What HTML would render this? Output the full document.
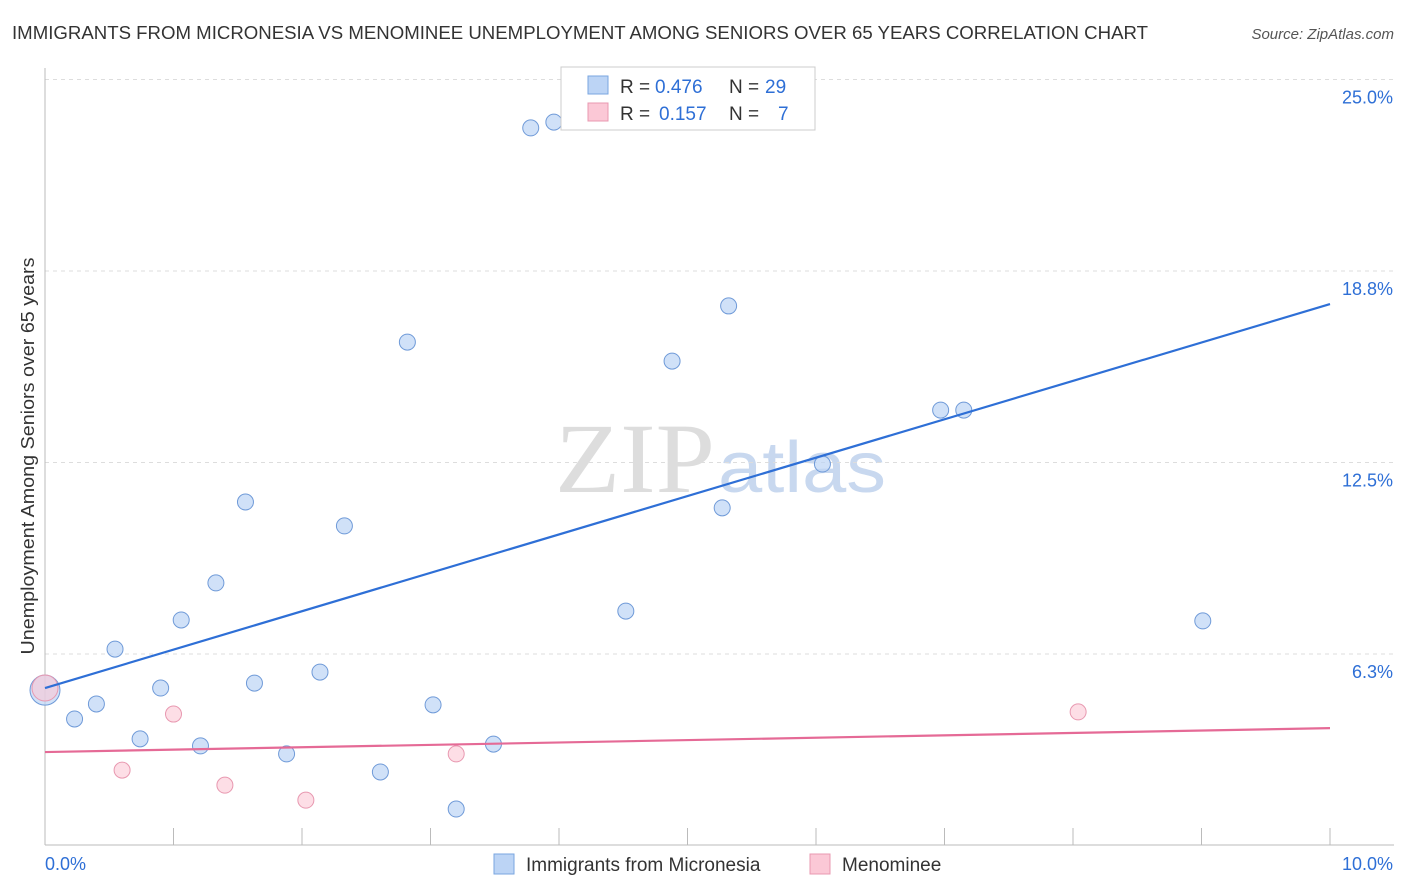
<!DOCTYPE html>
<html><head><meta charset="utf-8"><style>
body{margin:0;background:#fff;font-family:"Liberation Sans",sans-serif;}
svg{display:block}
</style></head><body>
<svg width="1406" height="892" id="chart">
<text x="12" y="39" font-size="18" textLength="1136" lengthAdjust="spacingAndGlyphs" fill="#333">IMMIGRANTS FROM MICRONESIA VS MENOMINEE UNEMPLOYMENT AMONG SENIORS OVER 65 YEARS CORRELATION CHART</text>
<text x="1394" y="39" font-size="15" fill="#555" font-style="italic" text-anchor="end">Source: ZipAtlas.com</text>
<text x="555" y="492" font-size="100" fill="#ddd" textLength="160" lengthAdjust="spacingAndGlyphs" font-family="Liberation Serif,serif">ZIP</text>
<text x="718" y="492" font-size="72" fill="#c8d8ef" textLength="168" lengthAdjust="spacingAndGlyphs">atlas</text>
<text transform="translate(34,456) rotate(-90)" font-size="18" textLength="397" lengthAdjust="spacingAndGlyphs" fill="#333" text-anchor="middle">Unemployment Among Seniors over 65 years</text>
<g id="grid"></g><g id="marks"></g>
<g font-size="19">
<rect x="561" y="67" width="254" height="63" fill="#fff" stroke="#ccc"/>
<rect x="588" y="76" width="20" height="18" fill="#bcd4f5" stroke="#7aa6e0"/>
<rect x="588" y="103" width="20" height="18" fill="#fbc8d6" stroke="#e898b0"/>
<text x="620" y="93" fill="#333">R =</text><text x="655" y="93" fill="#2e6fd6">0.476</text>
<text x="729" y="93" fill="#333">N =</text><text x="765" y="93" fill="#2e6fd6">29</text>
<text x="620" y="120" fill="#333">R =</text><text x="659" y="120" fill="#2e6fd6">0.157</text>
<text x="729" y="120" fill="#333">N =</text><text x="778" y="120" fill="#2e6fd6">7</text>
</g>
<g>
<rect x="494" y="854" width="20" height="20" fill="#bcd4f5" stroke="#7aa6e0"/>
<text x="526" y="871" font-size="19" fill="#333">Immigrants from Micronesia</text>
<rect x="810" y="854" width="20" height="20" fill="#fbc8d6" stroke="#e898b0"/>
<text x="842" y="871" font-size="19" fill="#333">Menominee</text>
</g>
</svg>
<script>
const yTicks=[6.25,12.5,18.75,25];
const yTickLabels=["6.3%","12.5%","18.8%","25.0%"];
const xTicks=[0,1,2,3,4,5,6,7,8,9,10];
const blueX=[0,0.23,0.40,0.545,0.74,0.90,1.06,1.21,1.33,1.56,1.63,1.88,2.14,2.33,2.61,2.82,3.02,3.20,3.49,3.78,3.96,4.52,4.88,5.27,5.32,6.05,6.97,7.15,9.01];
const blueY=[5.07,4.13,4.62,6.41,3.48,5.14,7.36,3.25,8.57,11.21,5.30,2.99,5.66,10.43,2.40,16.43,4.59,1.19,3.31,23.42,23.61,7.65,15.81,11.02,17.61,12.45,14.21,14.21,7.33];
const pinkX=[0,0.60,1.00,1.40,2.03,3.20,8.04];
const pinkY=[5.14,2.46,4.29,1.97,1.48,2.99,4.36];
const blueLine=[5.14,17.67];
const pinkLine=[3.05,3.83];
const NS="http://www.w3.org/2000/svg";
const X=v=>45+v*128.5, Y=v=>845.5-v*30.64;
function mk(t,a,p){const e=document.createElementNS(NS,t);for(const k in a)e.setAttribute(k,a[k]);p.appendChild(e);return e;}
const g=document.getElementById('grid'),m=document.getElementById('marks');
yTicks.forEach((t,i)=>{
 const l=mk('line',{x1:45,x2:1394,y1:Y(t),y2:Y(t),stroke:'#ddd','stroke-dasharray':'4,4'},g);
 
 
 const tx=mk('text',{x:1393,y:Y(t)+24,'font-size':18,fill:'#2e6fd6','text-anchor':'end'},g);
 tx.textContent=yTickLabels[i];
 
 
});
const ax=mk('line',{x1:45,x2:45,y1:68,y2:845,stroke:'#bbb'},g);


const bx=mk('line',{x1:45,x2:1394,y1:845,y2:845,stroke:'#bbb'},g);


xTicks.forEach(t=>{const l=mk('line',{x1:X(t),x2:X(t),y1:828,y2:845,stroke:'#bbb'},g);
 
 });
let t0=mk('text',{x:45,y:870,'font-size':18,fill:'#2e6fd6'},g);t0.textContent=xTicks[0].toFixed(1)+"%";


let t1=mk('text',{x:1393,y:870,'font-size':18,fill:'#2e6fd6','text-anchor':'end'},g);t1.textContent=xTicks[xTicks.length-1].toFixed(1)+"%";


blueX.forEach((x,i)=>{const c=mk('circle',{cx:X(x),cy:Y(blueY[i]),r:i==0?15:8,fill:'rgba(188,212,245,0.7)',stroke:'#6f9ad8','stroke-width':1},m);
 
 });
pinkX.forEach((x,i)=>{const c=mk('circle',{cx:X(x),cy:Y(pinkY[i]),r:i==0?13:8,fill:'rgba(251,200,214,0.6)',stroke:'#e898b0','stroke-width':1},m);
 
 });
const bl=mk('line',{x1:X(0),x2:X(10),y1:Y(blueLine[0]),y2:Y(blueLine[1]),stroke:'#2e6fd6','stroke-width':2.2},m);


const pl=mk('line',{x1:X(0),x2:X(10),y1:Y(pinkLine[0]),y2:Y(pinkLine[1]),stroke:'#e56a96','stroke-width':2.2},m);


</script>
</body></html>
